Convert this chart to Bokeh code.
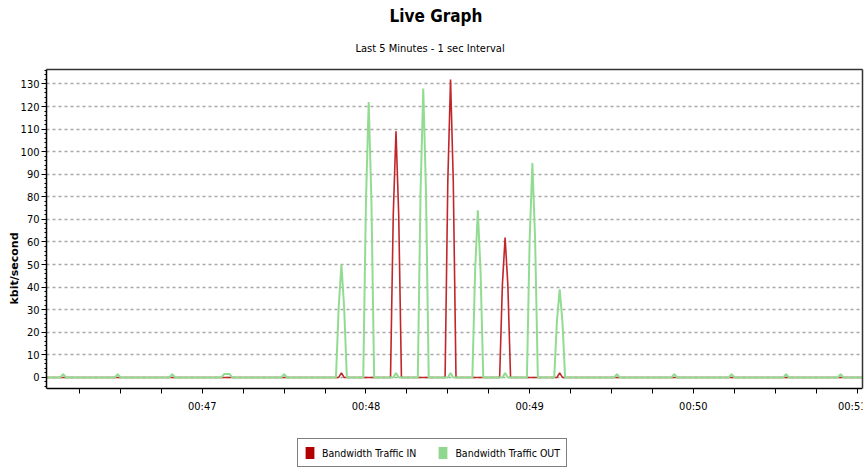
from bokeh.plotting import figure
from bokeh.models import (ColumnDataSource, Range1d, Legend, LegendItem, Title,
                          FixedTicker, SingleIntervalTicker, LinearAxis)
from bokeh.embed import file_html
from bokeh.resources import INLINE

# ---- data (time in seconds after 00:46:00, 1 sec interval) ----
T_START, T_END = 3, 302
out_times = [9, 29, 49, 68, 69, 70, 90,
             110, 111, 112, 120, 121, 122, 131, 140, 141, 142, 151,
             160, 161, 162, 171, 180, 181, 182, 190, 191, 192,
             212, 233, 254, 274, 294]
out_vals = [1.5, 1.5, 1.5, 1.5, 1.5, 1.5, 1.5,
            31, 50, 31, 78, 122, 78, 2, 82, 128, 82, 2,
            47, 74, 47, 2, 61, 95, 61, 25, 39, 25,
            1.5, 1.5, 1.5, 1.5, 1.5]
in_times = [111, 130, 131, 132, 150, 151, 152, 170, 171, 172, 191]
in_vals = [2, 72, 109, 72, 87, 132, 87, 41, 62, 41, 2]

x_tick_secs = [60, 120, 180, 240, 300]
x_tick_labels = ["00:47", "00:48", "00:49", "00:50", "00:51"]
y_ticks = list(range(0, 131, 10))
series_names = ["Bandwidth Traffic IN", "Bandwidth Traffic OUT"]

secs = list(range(T_START, T_END + 1))
out_map = dict(zip(out_times, out_vals))
in_map = dict(zip(in_times, in_vals))
src = ColumnDataSource(dict(
    t=secs,
    out=[out_map.get(s, 0) for s in secs],
    inn=[in_map.get(s, 0) for s in secs],
))

RED = "#c0262a"
GREEN = "#92dc92"
NARROW = "DejaVu Sans Condensed"
X0, X1 = 2.9, 302.0        # visible time window
Y_LO, Y_HI = -4.9, 136.4   # plotted value window
Y_BOTTOM = -39.9           # extra room under the axis for the legend

p = figure(width=866, height=467, output_backend="svg", toolbar_location=None,
           x_range=Range1d(X0, X1), y_range=Range1d(Y_BOTTOM, Y_HI),
           x_axis_location=None, y_axis_location=None,
           min_border_left=46, min_border_right=4, min_border_top=69,
           min_border_bottom=0)
p.background_fill_color = "white"
p.border_fill_color = "white"
p.outline_line_color = None

p.line("t", "inn", source=src, line_color=RED, line_width=1.6)
p.line("t", "out", source=src, line_color=GREEN, line_width=2)

# left value axis
yax = LinearAxis(bounds=(Y_LO, Y_HI))
yax.ticker = SingleIntervalTicker(interval=10, num_minor_ticks=5)
yax.axis_label = "kbit/second"
yax.axis_label_text_font = "DejaVu Sans"
yax.axis_label_text_font_style = "bold"
yax.axis_label_text_font_size = "11px"
yax.axis_label_text_color = "black"
yax.axis_label_standoff = -3
yax.major_label_text_font = NARROW
yax.major_label_text_font_size = "11px"
yax.major_label_text_color = "black"
yax.major_label_standoff = 2
yax.major_tick_out = 5
yax.major_tick_in = 0
yax.minor_tick_out = 2
yax.minor_tick_in = 0
yax.axis_line_color = "black"
yax.axis_line_width = 1.5
p.add_layout(yax, "left")

# bottom time axis, pinned at the bottom of the value window
xax = LinearAxis(fixed_location=Y_LO)
all_ticks = list(range(15, 301, 15))
xax.ticker = FixedTicker(ticks=all_ticks)
overrides = {t: "" for t in all_ticks}
for s, lab in zip(x_tick_secs, x_tick_labels):
    overrides[s] = lab
xax.major_label_overrides = overrides
xax.major_label_text_font = NARROW
xax.major_label_text_font_size = "11px"
xax.major_label_text_color = "black"
xax.major_label_standoff = 7
xax.major_tick_out = 5
xax.major_tick_in = 0
xax.minor_tick_out = 0
xax.minor_tick_in = 0
xax.axis_line_color = "black"
xax.axis_line_width = 1.5
p.add_layout(xax, "below")

# frame borders on top and right
top_ax = LinearAxis(major_tick_out=0, major_tick_in=0, minor_tick_out=0, minor_tick_in=0,
                    major_label_text_font_size="0px", axis_line_color="#333333",
                    axis_line_width=1.5, ticker=FixedTicker(ticks=[]))
p.add_layout(top_ax, "above")
right_ax = LinearAxis(bounds=(Y_LO, Y_HI), major_tick_out=0, major_tick_in=0,
                      minor_tick_out=0, minor_tick_in=0,
                      major_label_text_font_size="0px", axis_line_color="#333333",
                      axis_line_width=1.5, ticker=FixedTicker(ticks=[]))
p.add_layout(right_ax, "right")

p.ygrid.ticker = FixedTicker(ticks=y_ticks)
p.ygrid.grid_line_color = "#a8a8a8"
p.ygrid.grid_line_dash = "3 3"
p.ygrid.grid_line_width = 1.5
p.xgrid.visible = False

# titles (later-added sits further out)
p.add_layout(Title(text="Last 5 Minutes - 1 sec Interval", align="left", offset=309,
                   text_font=NARROW, text_font_style="normal", text_color="black",
                   text_font_size="11px", standoff=29), "above")
p.add_layout(Title(text="Live Graph", align="left", offset=343,
                   text_font=NARROW, text_font_style="bold", text_color="black",
                   text_font_size="17px", standoff=0), "above")

# legend with square swatches (swatch renderers hold no drawable data)
nan = float("nan")
sw_in = p.quad(left=[nan], right=[nan], top=[nan], bottom=[nan],
               fill_color="#b00000", line_color=None)
sw_out = p.quad(left=[nan], right=[nan], top=[nan], bottom=[nan],
                fill_color="#90d890", line_color=None)
legend = Legend(items=[LegendItem(label=series_names[0], renderers=[sw_in]),
                       LegendItem(label=series_names[1], renderers=[sw_out])],
                orientation="horizontal", location=(251, 0), margin=0,
                padding=6, spacing=21, glyph_width=11, glyph_height=15,
                label_standoff=7, label_text_font=NARROW, label_text_font_size="10.5px",
                label_text_color="black",
                border_line_color="black", border_line_width=1,
                background_fill_color="white", background_fill_alpha=1)
p.add_layout(legend, "center")

open("out.html", "w").write(file_html(p, INLINE))
